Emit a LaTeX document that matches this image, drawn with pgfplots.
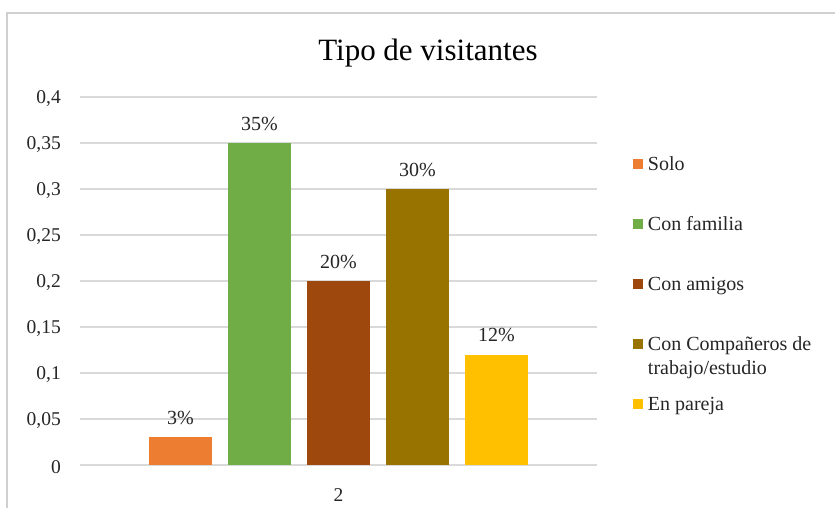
\documentclass[border=0pt]{standalone}
\usepackage{pgfplots}
\pgfplotsset{compat=1.18}
\usepackage{fontspec}
\setmainfont{Liberation Serif}
\definecolor{cSolo}{HTML}{ED7D31}
\definecolor{cFam}{HTML}{70AD47}
\definecolor{cAmi}{HTML}{9E480E}
\definecolor{cComp}{HTML}{997300}
\definecolor{cPar}{HTML}{FFC000}
\definecolor{gridc}{HTML}{D9D9D9}
\definecolor{framec}{HTML}{D0D0D0}
\definecolor{txt}{HTML}{262626}
\pgfplotsset{sq/.style={legend image code/.code={\path[##1] (0pt,19pt) rectangle (10pt,29pt);}}}
\begin{document}
\begin{tikzpicture}
\path[use as bounding box] (0pt,0pt) rectangle (835pt,-508pt);
\fill[white] (0pt,0pt) rectangle (835pt,-508pt);
\draw[color=framec, line width=1.5pt] (7pt,-520pt) -- (7pt,-13pt) -- (850pt,-13pt);
\begin{axis}[
  at={(80pt,-465pt)}, anchor=south west, scale only axis,
  width=517pt, height=368pt,
  xmin=1.5, xmax=2.5, ymin=0, ymax=0.4,
  ybar=16pt, bar width=63pt,
  xtick={2}, ytick={0,0.05,0.1,0.15,0.2,0.25,0.3,0.35,0.4},
  axis line style={draw=none}, tick style={draw=none},
  ymajorgrids, grid style={color=gridc, line width=1.4pt},
  yticklabel style={font=\fontsize{19.5}{22}\selectfont, text=txt, inner sep=0pt, xshift=-19pt, yshift=-2pt,
    /pgf/number format/.cd, use comma, fixed, precision=2, assume math mode=true},
  xticklabel style={font=\fontsize{19.5}{22}\selectfont, text=txt, anchor=base, inner sep=0pt, yshift=-32pt,
    /pgf/number format/assume math mode=true},
  title={Tipo de visitantes},
  title style={at={(axis description cs:0.673,1.0842)}, anchor=base, inner sep=0pt, yshift=0pt,
    font=\fontsize{31}{36}\selectfont, text=black},
  nodes near coords, point meta=explicit symbolic,
  nodes near coords style={font=\fontsize{20}{22}\selectfont, text=txt, anchor=base, inner sep=0pt, yshift=13pt},
  legend cell align=left,
  legend style={at={(axis description cs:1.0696,0.8343)}, anchor=north west,
    draw=none, fill=none, inner sep=0pt, outer sep=0pt, column sep=5pt, row sep=0pt,
    font=\fontsize{20}{24}\selectfont, text=txt,
    nodes={inner sep=0pt, outer sep=0pt, text height=13pt, text depth=47pt}},
]
\addplot[fill=cSolo, draw=none, sq] coordinates {(2,0.03) [3\%]};
\addlegendentry{Solo}
\addplot[fill=cFam, draw=none, sq] coordinates {(2,0.35) [35\%]};
\addlegendentry{Con familia}
\addplot[fill=cAmi, draw=none, sq] coordinates {(2,0.20) [20\%]};
\addlegendentry{Con amigos}
\addplot[fill=cComp, draw=none, sq] coordinates {(2,0.30) [30\%]};
\addlegendentry{\begin{tabular}[t]{@{}l@{}}Con Compañeros de\\trabajo/estudio\end{tabular}}
\addplot[fill=cPar, draw=none, sq] coordinates {(2,0.12) [12\%]};
\addlegendentry{En pareja}
\end{axis}
\end{tikzpicture}
\end{document}
